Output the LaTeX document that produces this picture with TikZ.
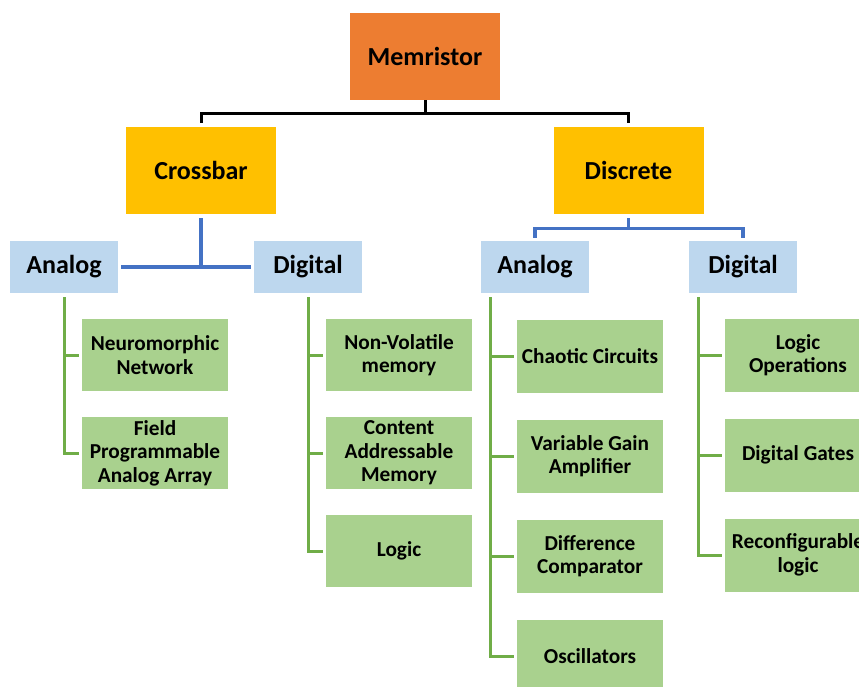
\documentclass[tikz,border=0pt]{standalone}
\usepackage{fontspec}
\setmainfont{Carlito}
\definecolor{orangeC}{HTML}{ED7D31}
\definecolor{goldC}{HTML}{FFC000}
\definecolor{blueC}{HTML}{BDD7EE}
\definecolor{greenC}{HTML}{A9D18E}
\definecolor{lineB}{HTML}{4472C4}
\definecolor{lineG}{HTML}{70AD47}
\begin{document}
\begin{tikzpicture}[x=1pt,y=-1pt,
  box/.style={rectangle, inner sep=0pt, align=center, text=black, font=\bfseries\fontsize{26}{30}\selectfont},
  topbox/.style={box, fill=orangeC, minimum width=150pt, minimum height=87pt},
  midbox/.style={box, fill=goldC, minimum width=150pt, minimum height=87pt},
  subbox/.style={box, fill=blueC, minimum width=108pt, minimum height=52pt},
  leafbox/.style={box, fill=greenC, minimum width=146pt, minimum height=72pt, font=\bfseries\fontsize{21.3}{23.5}\selectfont},
  leafboxb/.style={leafbox, minimum height=73pt},
  blk/.style={draw=black, line width=3pt},
  bl/.style={draw=lineB, line width=3.2pt},
  gr/.style={draw=lineG, line width=3pt}]
\useasboundingbox (0,0) rectangle (859,686);
\clip (0,0) rectangle (859,686);

\node[topbox] (mem) at (425,56.5) {Memristor};
\node[midbox] (cross) at (201,170.5) {Crossbar};
\node[midbox] (disc) at (628.5,170.5) {Discrete};

\node[subbox] (ca) at (64,267) {Analog};
\node[subbox] (cd) at (308,267) {Digital};
\node[subbox] (da) at (535,267) {Analog};
\node[subbox] (dd) at (743,267) {Digital};

\node[leafbox] (nn) at (155,355) {Neuromorphic\\Network};
\node[leafbox] (fpaa) at (155,453) {Field\\Programmable\\Analog Array};

\node[leafbox] (nv) at (399,355) {Non-Volatile\\memory};
\node[leafbox] (cam) at (399,453) {Content\\Addressable\\Memory};
\node[leafbox] (lg) at (399,551) {Logic};

\node[leafboxb] (ch) at (590,356) {Chaotic Circuits};
\node[leafboxb] (vg) at (590,456) {Variable Gain\\Amplifier};
\node[leafboxb] (dc) at (590,556) {Difference\\Comparator};
\node[leafboxb] (os) at (590,656) {Oscillators};

\node[leafboxb] (lo) at (798,355) {Logic\\Operations};
\node[leafboxb] (dg) at (798,455) {Digital Gates};
\node[leafboxb] (rl) at (798,555) {Reconfigurable\\logic};

% top level
\draw[blk] (mem.south) -- ++(0,13) coordinate (mj);
\draw[blk] (mj) -| ([yshift=4pt]cross.north);
\draw[blk] (mj) -| ([yshift=4pt]disc.north);

% crossbar
\draw[bl] ([yshift=-4pt]cross.south) -- (cross.south |- ca.east);
\draw[bl] ([xshift=3pt]ca.east) -- ([xshift=-3pt]cd.west);

% discrete
\draw[bl] ([yshift=-4pt]disc.south) -- ++(0,10) coordinate (dj);
\draw[bl] (dj) -| ([yshift=3pt]da.north);
\draw[bl] (dj) -| ([yshift=3pt]dd.north);

% crossbar analog
\draw[gr] ([yshift=-4pt]ca.south) |- ([xshift=-3pt]fpaa.west);
\draw[gr] (ca.south |- nn.west) -- ([xshift=-3pt]nn.west);

% crossbar digital
\draw[gr] ([yshift=-4pt]cd.south) |- ([xshift=-3pt]lg.west);
\draw[gr] (cd.south |- nv.west) -- ([xshift=-3pt]nv.west);
\draw[gr] (cd.south |- cam.west) -- ([xshift=-3pt]cam.west);

% discrete analog
\coordinate (dav) at ([xshift=10pt,yshift=-4pt]da.south west);
\draw[gr] (dav) |- ([xshift=-3pt]os.west);
\draw[gr] (dav |- ch.west) -- ([xshift=-3pt]ch.west);
\draw[gr] (dav |- vg.west) -- ([xshift=-3pt]vg.west);
\draw[gr] (dav |- dc.west) -- ([xshift=-3pt]dc.west);

% discrete digital
\coordinate (ddv) at ([xshift=10pt,yshift=-4pt]dd.south west);
\draw[gr] (ddv) |- ([xshift=-3pt]rl.west);
\draw[gr] (ddv |- lo.west) -- ([xshift=-3pt]lo.west);
\draw[gr] (ddv |- dg.west) -- ([xshift=-3pt]dg.west);
\end{tikzpicture}
\end{document}
